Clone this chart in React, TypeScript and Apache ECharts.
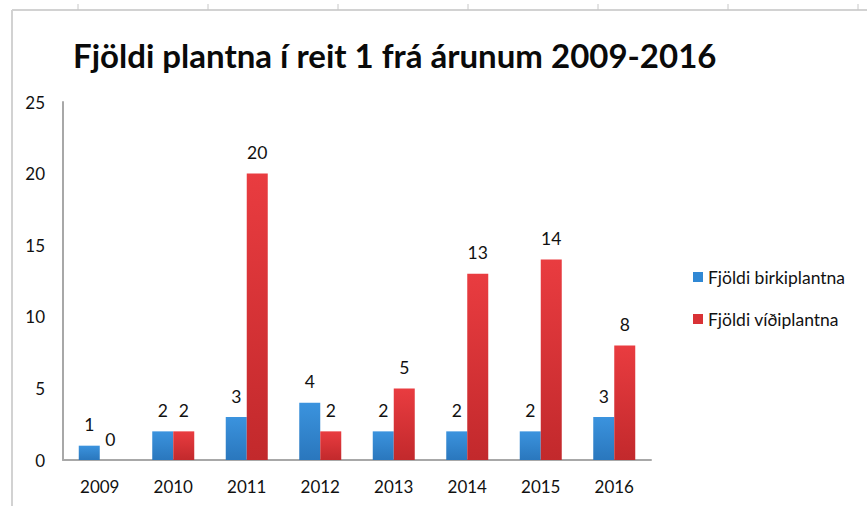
import React, { useEffect, useRef } from "react";
import * as echarts from "echarts";

const titleText = "Fjöldi plantna í reit 1 frá árunum 2009-2016";
const years = ["2009", "2010", "2011", "2012", "2013", "2014", "2015", "2016"];
const birki = [1, 2, 3, 4, 2, 2, 2, 3];
const vidi = [0, 2, 20, 2, 5, 13, 14, 8];
const seriesNames = ["Fjöldi birkiplantna", "Fjöldi víðiplantna"];
const headerTicks = [78, 208, 338, 468, 598, 728, 858];

const FONT = "Lato, 'Open Sans', sans-serif";

export default function App() {
  const ref = useRef<HTMLDivElement>(null);
  useEffect(() => {
    document.body.style.margin = "0";
    const chart = echarts.init(ref.current!, undefined, { renderer: "svg" });
    const blue = new echarts.graphic.LinearGradient(0, 0, 0, 1, [
      { offset: 0, color: "#3b93de" },
      { offset: 1, color: "#2a77bd" },
    ]);
    const red = new echarts.graphic.LinearGradient(0, 0, 0, 1, [
      { offset: 0, color: "#e93c40" },
      { offset: 1, color: "#c2292c" },
    ]);
    const labelCfg = {
      show: true,
      position: "top" as const,
      distance: 12,
      color: "#111111",
      fontSize: 17.5,
      fontFamily: FONT,
    };
    const graphics: any[] = [
      {
        type: "line",
        shape: { x1: 12, y1: 10, x2: 867, y2: 10 },
        style: { stroke: "#d2d2d2", lineWidth: 2 },
      },
      {
        type: "line",
        shape: { x1: 12, y1: 10, x2: 12, y2: 506 },
        style: { stroke: "#d2d2d2", lineWidth: 2 },
      },
      ...headerTicks.map((x) => ({
        type: "line",
        shape: { x1: x, y1: 4, x2: x, y2: 10 },
        style: { stroke: "#c8c8c8", lineWidth: 1 },
      })),
    ];
    chart.setOption({
      animation: false,
      backgroundColor: "#ffffff",
      title: {
        text: titleText,
        left: 68,
        top: 33,
        textStyle: {
          fontFamily: FONT,
          fontWeight: "bold",
          fontSize: 33,
          color: "#0a0a0a",
        },
      },
      graphic: graphics,
      legend: {
        orient: "vertical",
        left: 688,
        top: 263,
        itemWidth: 10,
        itemHeight: 10,
        itemGap: 24,
        icon: "rect",
        textStyle: { fontFamily: FONT, fontSize: 17.5, color: "#111111" },
        data: [
          { name: seriesNames[0], itemStyle: { color: "#3088d4" } },
          { name: seriesNames[1], itemStyle: { color: "#d93236" } },
        ],
      },
      grid: { left: 63, right: 216, top: 102, bottom: 46 },
      xAxis: {
        type: "category",
        data: years,
        axisLine: { lineStyle: { color: "#a8a8a8", width: 2 } },
        axisTick: { show: false },
        axisLabel: { margin: 18, fontFamily: FONT, fontSize: 17, color: "#111111" },
      },
      yAxis: {
        type: "value",
        min: 0,
        max: 25,
        interval: 5,
        axisLine: { show: true, lineStyle: { color: "#a8a8a8", width: 2 } },
        axisTick: { show: false },
        splitLine: { show: false },
        axisLabel: { margin: 18, fontFamily: FONT, fontSize: 17, color: "#111111" },
      },
      series: [
        {
          name: seriesNames[0],
          type: "bar",
          data: birki,
          barWidth: 21,
          barGap: "0%",
          itemStyle: { color: blue },
          label: labelCfg,
        },
        {
          name: seriesNames[1],
          type: "bar",
          data: vidi,
          barWidth: 21,
          barGap: "0%",
          itemStyle: { color: red },
          label: labelCfg,
        },
      ],
    });
    return () => chart.dispose();
  }, []);
  return <div ref={ref} style={{ width: 867, height: 506 }} />;
}
